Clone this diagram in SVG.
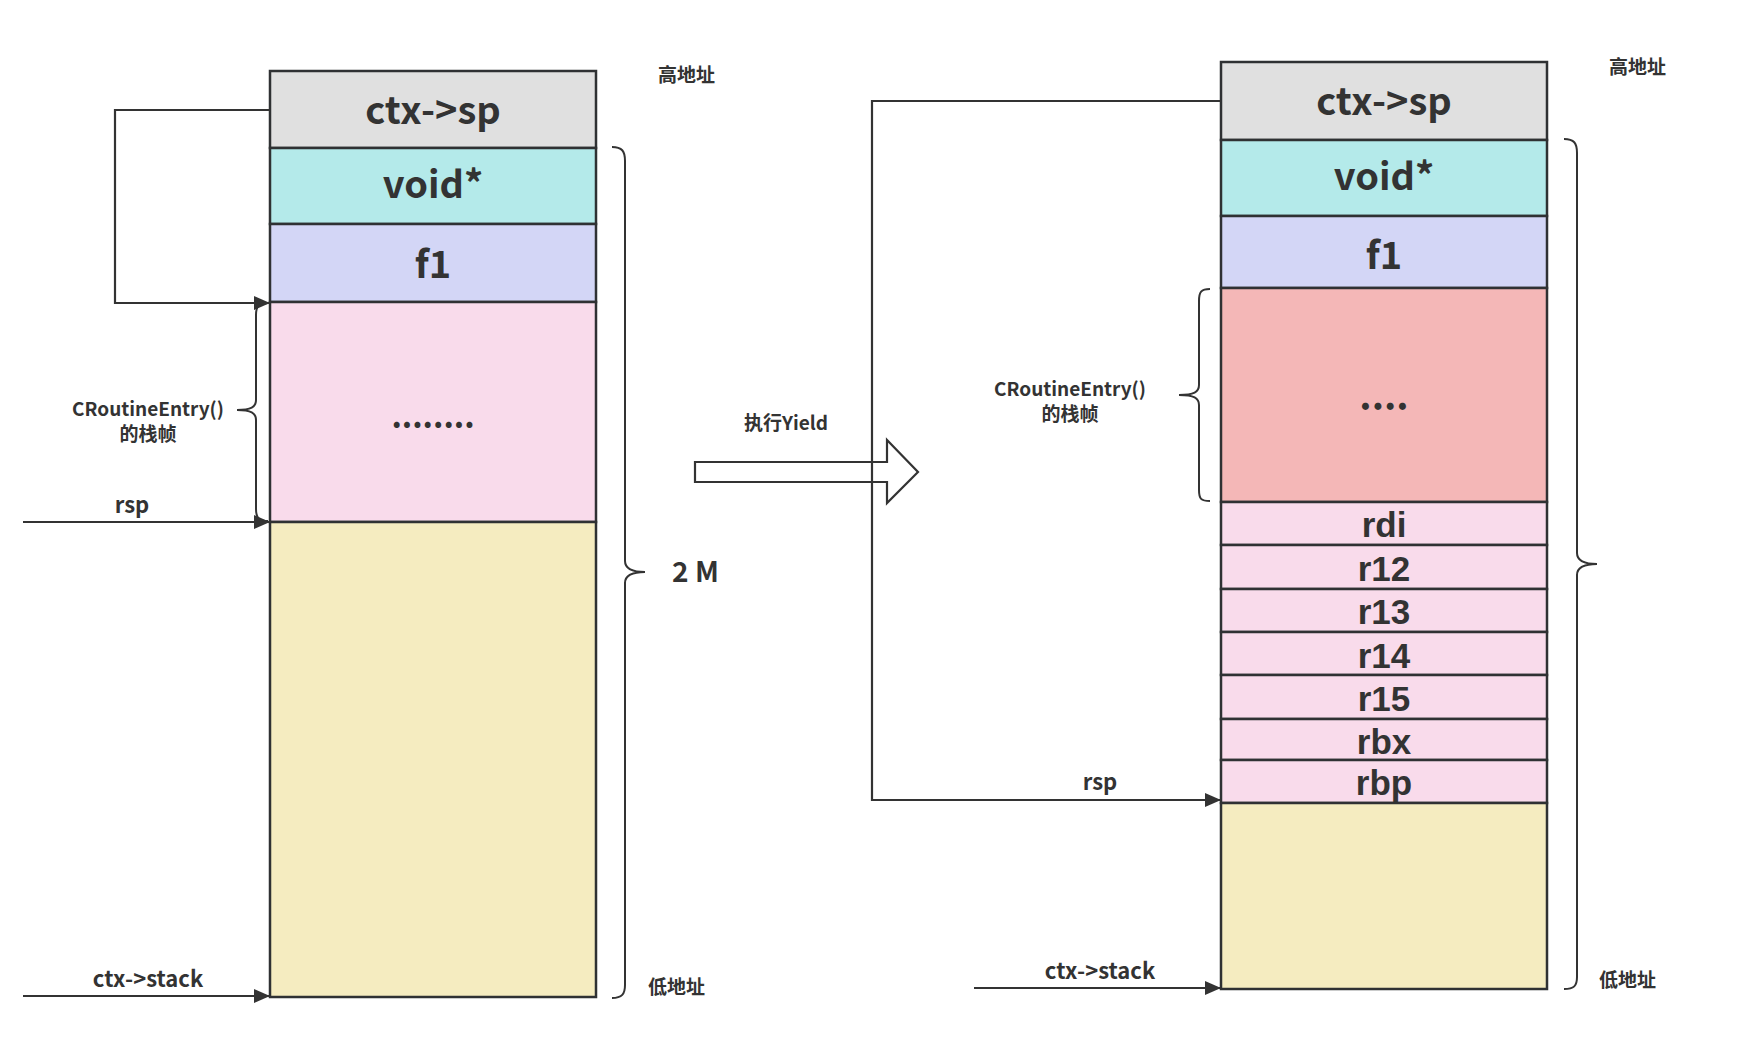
<svg xmlns="http://www.w3.org/2000/svg" width="1740" height="1044" viewBox="0 0 1740 1044">
<defs>
<style>
text{font-family:"Noto Sans CJK SC","Noto Sans",sans-serif;fill:#333;font-weight:bold;}
.big{font-size:38px;text-anchor:middle;}
.reg{font-family:"Liberation Sans",Arial,sans-serif;font-size:35px;text-anchor:middle;}
.lbl{font-size:22px;text-anchor:middle;}
.sm{font-size:19px;text-anchor:middle;}
.cn{font-size:19px;}
.box{stroke:#2f3133;stroke-width:2.5;}
.grey{fill:#e0e0e0;}.cyan{fill:#b4eaea;}.lav{fill:#d3d6f6;}.pink{fill:#f9dbeb;}.red{fill:#f4b7b7;}.yel{fill:#f5ecc0;}
.ln{fill:none;stroke:#333;stroke-width:2.2;}
.br{fill:none;stroke:#333;stroke-width:2;}
</style>
<marker id="ah" markerUnits="userSpaceOnUse" markerWidth="16" markerHeight="14" refX="16" refY="7" orient="auto">
<path d="M0,0 L16,7 L0,14 z" fill="#333"/>
</marker>
</defs>
<rect width="1740" height="1044" fill="#fff"/>

<!-- Left stack -->
<g id="left-ctxsp"><rect class="box grey" x="270" y="71" width="326" height="77"/><text class="big" x="433" y="124">ctx-&gt;sp</text></g>
<g id="left-void"><rect class="box cyan" x="270" y="148" width="326" height="76"/><text class="big" x="433" y="198">void*</text></g>
<g id="left-f1"><rect class="box lav" x="270" y="224" width="326" height="78"/><text class="big" x="433" y="278">f1</text></g>
<g id="left-frame"><rect class="box pink" x="270" y="302" width="326" height="220"/><text class="big" x="433" y="428" style="font-size:32px">........</text></g>
<g id="left-free"><rect class="box yel" x="270" y="522" width="326" height="475"/></g>

<g id="left-labels">
<text class="cn" x="658" y="82">高地址</text>
<text class="cn" x="648" y="994">低地址</text>
<text x="672" y="582" style="font-size:28px">2 M</text>
<text class="sm" x="148" y="416">CRoutineEntry()</text>
<text class="sm" x="148" y="441">的栈帧</text>
<text class="lbl" x="132" y="513">rsp</text>
<text class="lbl" x="148" y="987">ctx-&gt;stack</text>
</g>

<!-- Middle arrow -->
<g id="yield">
<path d="M695,462 L887,462 L887,440 L918,472 L887,503 L887,482 L695,482 Z" fill="#fff" stroke="#333" stroke-width="2.2"/>
<text class="sm" x="786" y="430">执行Yield</text>
</g>

<!-- Right stack -->
<g id="right-ctxsp"><rect class="box grey" x="1221" y="62" width="326" height="78"/><text class="big" x="1384" y="115">ctx-&gt;sp</text></g>
<g id="right-void"><rect class="box cyan" x="1221" y="140" width="326" height="76"/><text class="big" x="1384" y="190">void*</text></g>
<g id="right-f1"><rect class="box lav" x="1221" y="216" width="326" height="72"/><text class="big" x="1384" y="269">f1</text></g>
<g id="right-frame"><rect class="box red" x="1221" y="288" width="326" height="214"/><text class="big" x="1384" y="410">....</text></g>
<g id="right-rdi"><rect class="box pink" x="1221" y="502" width="326" height="43"/><text class="reg" x="1384" y="537">rdi</text></g>
<g id="right-r12"><rect class="box pink" x="1221" y="545" width="326" height="44"/><text class="reg" x="1384" y="581">r12</text></g>
<g id="right-r13"><rect class="box pink" x="1221" y="589" width="326" height="43"/><text class="reg" x="1384" y="624">r13</text></g>
<g id="right-r14"><rect class="box pink" x="1221" y="632" width="326" height="43"/><text class="reg" x="1384" y="668">r14</text></g>
<g id="right-r15"><rect class="box pink" x="1221" y="675" width="326" height="44"/><text class="reg" x="1384" y="711">r15</text></g>
<g id="right-rbx"><rect class="box pink" x="1221" y="719" width="326" height="41"/><text class="reg" x="1384" y="754">rbx</text></g>
<g id="right-rbp"><rect class="box pink" x="1221" y="760" width="326" height="43"/><text class="reg" x="1384" y="795">rbp</text></g>
<g id="right-free"><rect class="box yel" x="1221" y="803" width="326" height="186"/></g>

<g id="right-labels">
<text class="cn" x="1609" y="74">高地址</text>
<text class="cn" x="1599" y="987">低地址</text>
<text class="sm" x="1070" y="396">CRoutineEntry()</text>
<text class="sm" x="1070" y="421">的栈帧</text>
<text class="lbl" x="1100" y="790">rsp</text>
<text class="lbl" x="1100" y="979">ctx-&gt;stack</text>
</g>

<!-- Connectors -->
<g id="connectors">
<path class="ln" d="M270,110 L115,110 L115,303 L270,303" marker-end="url(#ah)"/>
<path class="ln" d="M23,522 L270,522" marker-end="url(#ah)"/>
<path class="ln" d="M23,996 L270,996" marker-end="url(#ah)"/>
<path class="ln" d="M1221,101 L872,101 L872,800 L1221,800" marker-end="url(#ah)"/>
<path class="ln" d="M974,988 L1221,988" marker-end="url(#ah)"/>
<path class="br" d="M268,303 C259,303 256,306 256,315 L256,400 C256,407 251,410 237,410 C251,410 256,413 256,420 L256,509 C256,518 259,521 268,521"/>
<path class="br" d="M612,147 C622,147 625,151 625,161 L625,561 C625,568 630,572 645,572 C630,572 625,576 625,583 L625,985 C625,994 622,998 612,998"/>
<path class="br" d="M1210,289 C1201,289 1199,292 1199,301 L1199,385 C1199,392 1194,395 1179,395 C1194,395 1199,398 1199,405 L1199,490 C1199,499 1201,501 1210,501"/>
<path class="br" d="M1564,139 C1574,139 1577,143 1577,153 L1577,553 C1577,560 1582,564 1597,564 C1582,564 1577,568 1577,575 L1577,977 C1577,986 1574,989 1564,989"/>
</g>
</svg>
